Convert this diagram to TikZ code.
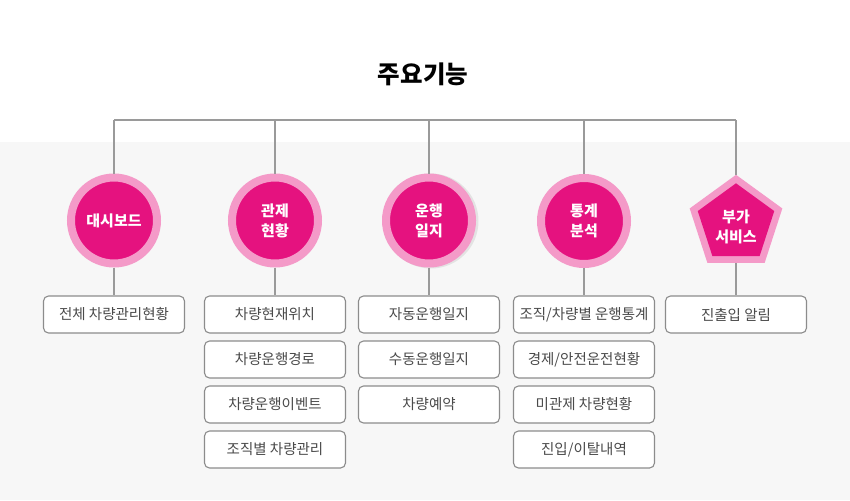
\documentclass[tikz,border=0pt]{standalone}
\usepackage{fontspec}
\setmainfont{Noto Sans CJK KR}
\usetikzlibrary{shapes.geometric}
\definecolor{bggray}{HTML}{F7F7F7}
\definecolor{linegray}{HTML}{9A9A9A}
\definecolor{magenta1}{HTML}{E5127F}
\definecolor{pink1}{HTML}{F49AC8}
\definecolor{boxline}{HTML}{8C8C8C}
\definecolor{boxtext}{HTML}{4A4A4A}
\tikzset{
  conn/.style={draw=linegray, line width=1.4pt},
  topic/.style={circle, minimum size=86pt, inner sep=0pt, fill=magenta1, draw=pink1, line width=8pt,
    text=white, font=\bfseries\fontsize{15pt}{20pt}\selectfont, align=center},
  itembox/.style={draw=boxline, line width=1.1pt, fill=white, rounded corners=5pt,
    minimum width=141pt, minimum height=37pt, inner sep=0pt, text=boxtext,
    font=\fontsize{14.5pt}{17pt}\selectfont},
}
\begin{document}
\begin{tikzpicture}[x=1pt, y=-1pt]
\useasboundingbox (0,0) rectangle (850,500);
\fill[white] (0,0) rectangle (850,142);
\fill[bggray] (0,142) rectangle (850,500);

\node[font=\bfseries\fontsize{24.5pt}{28pt}\selectfont, text=black] (title) at (423,74) {주요기능};

% shadow for third circle
\fill[black, opacity=0.08] (431,221) circle (47.5pt);

\node[topic] (d1) at (114,220.5) {대시보드};
\node[topic] (d2) at (275,220.5) {관제\\현황};
\node[topic] (d3) at (429,220.5) {운행\\일지};
\node[topic] (d4) at (584,221) {통계\\분석};
\node[regular polygon, regular polygon sides=5, minimum size=97.4pt, inner sep=0pt, fill=pink1] (p5) at (736,223.5) {};
\node[regular polygon, regular polygon sides=5, minimum size=80.4pt, inner sep=0pt, fill=magenta1] (p5i) at (736,223.5) {};
\node[text=white, font=\bfseries\fontsize{15pt}{20pt}\selectfont, align=center] (p5t) at (736,227) {부가\\서비스};

\coordinate (t1) at (114,120);
\coordinate (t2) at (275,120);
\coordinate (t3) at (429,120);
\coordinate (t4) at (584,120);
\coordinate (t5) at (736,120);
\draw[conn] (t1) -- (t5);
\draw[conn] (t1) -- (d1.north);
\draw[conn] (t2) -- (d2.north);
\draw[conn] (t3) -- (d3.north);
\draw[conn] (t4) -- (d4.north);
\draw[conn] (t5) -- (p5.north);

% boxes
\node[itembox] (b11) at (114,314.5) {전체 차량관리현황};

\node[itembox] (b21) at (275,314.5) {차량현재위치};
\node[itembox] (b22) at (275,359.5) {차량운행경로};
\node[itembox] (b23) at (275,404.5) {차량운행이벤트};
\node[itembox] (b24) at (275,449.5) {조직별 차량관리};

\node[itembox] (b31) at (429,314.5) {자동운행일지};
\node[itembox] (b32) at (429,359.5) {수동운행일지};
\node[itembox] (b33) at (429,404.5) {차량예약};

\node[itembox] (b41) at (584,314.5) {조직/차량별 운행통계};
\node[itembox] (b42) at (584,359.5) {경제/안전운전현황};
\node[itembox] (b43) at (584,404.5) {미관제 차량현황};
\node[itembox] (b44) at (584,449.5) {진입/이탈내역};

\node[itembox] (b51) at (736,314.5) {진출입 알림};

\draw[conn] (d1.south) -- (b11.north);
\draw[conn] (d2.south) -- (b21.north);
\draw[conn] (d3.south) -- (b31.north);
\draw[conn] (d4.south) -- (b41.north);
\draw[conn] (p5.south) -- (b51.north);
\end{tikzpicture}
\end{document}
